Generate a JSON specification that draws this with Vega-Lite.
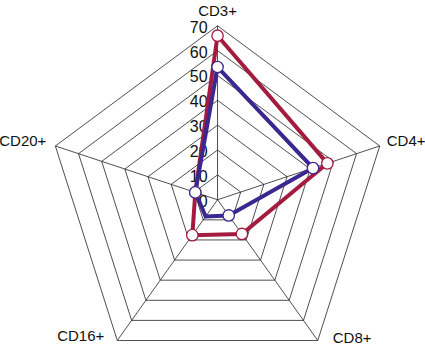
{
  "$schema": "https://vega.github.io/schema/vega-lite/v6.json",
  "width": 425,
  "height": 347,
  "autosize": {"type": "fit", "contains": "padding"},
  "padding": 0,
  "background": "white",
  "config": {"view": {"stroke": null}},
  "datasets": {
    "axes": [
      {"axis": "CD3+", "i": 0},
      {"axis": "CD4+", "i": 1},
      {"axis": "CD8+", "i": 2},
      {"axis": "CD16+", "i": 3},
      {"axis": "CD20+", "i": 4}
    ],
    "grid": [
      {"level": 10, "i": [0, 1, 2, 3, 4]},
      {"level": 20, "i": [0, 1, 2, 3, 4]},
      {"level": 30, "i": [0, 1, 2, 3, 4]},
      {"level": 40, "i": [0, 1, 2, 3, 4]},
      {"level": 50, "i": [0, 1, 2, 3, 4]},
      {"level": 60, "i": [0, 1, 2, 3, 4]},
      {"level": 70, "i": [0, 1, 2, 3, 4]}
    ],
    "ticks": [
      {"label": "0", "v": 0},
      {"label": "10", "v": 10},
      {"label": "20", "v": 20},
      {"label": "30", "v": 30},
      {"label": "40", "v": 40},
      {"label": "50", "v": 50},
      {"label": "60", "v": 60},
      {"label": "70", "v": 70}
    ],
    "series": [
      {"series": "A", "axis": "CD3+", "i": 0, "value": 66.0},
      {"series": "A", "axis": "CD4+", "i": 1, "value": 47.4},
      {"series": "A", "axis": "CD8+", "i": 2, "value": 17.0},
      {"series": "A", "axis": "CD16+", "i": 3, "value": 17.6},
      {"series": "A", "axis": "CD20+", "i": 4, "value": 9.6},
      {"series": "B", "axis": "CD3+", "i": 0, "value": 53.4},
      {"series": "B", "axis": "CD4+", "i": 1, "value": 41.2},
      {"series": "B", "axis": "CD8+", "i": 2, "value": 7.8},
      {"series": "B", "axis": "CD16+", "i": 3, "value": 8.3},
      {"series": "B", "axis": "CD20+", "i": 4, "value": 9.6}
    ]
  },
  "encoding": {
    "x": {"field": "px", "type": "quantitative", "scale": {"domain": [-86.83, 82.69], "nice": false, "zero": false}, "axis": null},
    "y": {"field": "py", "type": "quantitative", "scale": {"domain": [-58.04, 80.37], "nice": false, "zero": false}, "axis": null}
  },
  "layer": [
    {
      "data": {"name": "axes"},
      "transform": [
        {"calculate": "0", "as": "px"},
        {"calculate": "0", "as": "py"},
        {"calculate": "70*sin(datum.i*2*PI/5)", "as": "px2"},
        {"calculate": "70*cos(datum.i*2*PI/5)", "as": "py2"}
      ],
      "mark": {"type": "rule", "color": "#222222", "strokeWidth": 0.8},
      "encoding": {"x2": {"field": "px2"}, "y2": {"field": "py2"}}
    },
    {
      "data": {"name": "grid"},
      "transform": [
        {"flatten": ["i"]},
        {"calculate": "datum.level*sin(datum.i*2*PI/5)", "as": "px"},
        {"calculate": "datum.level*cos(datum.i*2*PI/5)", "as": "py"}
      ],
      "mark": {"type": "line", "interpolate": "linear-closed", "color": "#222222", "strokeWidth": 0.8},
      "encoding": {"detail": {"field": "level"}, "order": {"field": "i"}}
    },
    {
      "data": {"name": "ticks"},
      "transform": [
        {"calculate": "0", "as": "px"},
        {"calculate": "datum.v", "as": "py"}
      ],
      "mark": {"type": "text", "align": "right", "baseline": "middle", "dx": -10, "dy": 2, "font": "Liberation Sans Narrow, Liberation Sans", "fontSize": 16, "color": "#111111"},
      "encoding": {"text": {"field": "label"}}
    },
    {
      "data": {"name": "series"},
      "transform": [
        {"calculate": "datum.value*sin(datum.i*2*PI/5)", "as": "px"},
        {"calculate": "datum.value*cos(datum.i*2*PI/5)", "as": "py"}
      ],
      "mark": {"type": "line", "interpolate": "linear-closed", "strokeWidth": 4, "strokeJoin": "miter"},
      "encoding": {
        "detail": {"field": "series"},
        "order": {"field": "i"},
        "color": {"field": "series", "type": "nominal", "scale": {"domain": ["A", "B"], "range": ["#A31C40", "#3A2790"]}, "legend": null}
      }
    },
    {
      "data": {"name": "series"},
      "transform": [
        {"filter": "!(datum.series == 'B' && datum.axis == 'CD16+')"},
        {"calculate": "datum.value*sin(datum.i*2*PI/5)", "as": "px"},
        {"calculate": "datum.value*cos(datum.i*2*PI/5)", "as": "py"}
      ],
      "mark": {"type": "point", "shape": "circle", "filled": true, "fill": "white", "size": 130, "strokeWidth": 1.3, "opacity": 1},
      "encoding": {
        "stroke": {"field": "series", "type": "nominal", "scale": {"domain": ["A", "B"], "range": ["#A31C40", "#3A2790"]}, "legend": null}
      }
    },
    {
      "data": {"name": "axes"},
      "transform": [
        {"filter": "datum.axis == 'CD3+'"},
        {"calculate": "70*sin(datum.i*2*PI/5)", "as": "px"},
        {"calculate": "70*cos(datum.i*2*PI/5)", "as": "py"}
      ],
      "mark": {"type": "text", "align": "center", "baseline": "middle", "dy": -15, "font": "Liberation Sans Narrow, Liberation Sans", "fontSize": 15, "color": "#111111"},
      "encoding": {"text": {"field": "axis"}}
    },
    {
      "data": {"name": "axes"},
      "transform": [
        {"filter": "datum.axis == 'CD4+'"},
        {"calculate": "70*sin(datum.i*2*PI/5)", "as": "px"},
        {"calculate": "70*cos(datum.i*2*PI/5)", "as": "py"}
      ],
      "mark": {"type": "text", "align": "left", "baseline": "middle", "dx": 7, "dy": -5, "font": "Liberation Sans Narrow, Liberation Sans", "fontSize": 15, "color": "#111111"},
      "encoding": {"text": {"field": "axis"}}
    },
    {
      "data": {"name": "axes"},
      "transform": [
        {"filter": "datum.axis == 'CD8+'"},
        {"calculate": "70*sin(datum.i*2*PI/5)", "as": "px"},
        {"calculate": "70*cos(datum.i*2*PI/5)", "as": "py"}
      ],
      "mark": {"type": "text", "align": "left", "baseline": "middle", "dx": 15, "dy": -2, "font": "Liberation Sans Narrow, Liberation Sans", "fontSize": 15, "color": "#111111"},
      "encoding": {"text": {"field": "axis"}}
    },
    {
      "data": {"name": "axes"},
      "transform": [
        {"filter": "datum.axis == 'CD16+'"},
        {"calculate": "70*sin(datum.i*2*PI/5)", "as": "px"},
        {"calculate": "70*cos(datum.i*2*PI/5)", "as": "py"}
      ],
      "mark": {"type": "text", "align": "right", "baseline": "middle", "dx": -13, "dy": -4, "font": "Liberation Sans Narrow, Liberation Sans", "fontSize": 15, "color": "#111111"},
      "encoding": {"text": {"field": "axis"}}
    },
    {
      "data": {"name": "axes"},
      "transform": [
        {"filter": "datum.axis == 'CD20+'"},
        {"calculate": "70*sin(datum.i*2*PI/5)", "as": "px"},
        {"calculate": "70*cos(datum.i*2*PI/5)", "as": "py"}
      ],
      "mark": {"type": "text", "align": "right", "baseline": "middle", "dx": -9, "dy": -5, "font": "Liberation Sans Narrow, Liberation Sans", "fontSize": 15, "color": "#111111"},
      "encoding": {"text": {"field": "axis"}}
    }
  ]
}
